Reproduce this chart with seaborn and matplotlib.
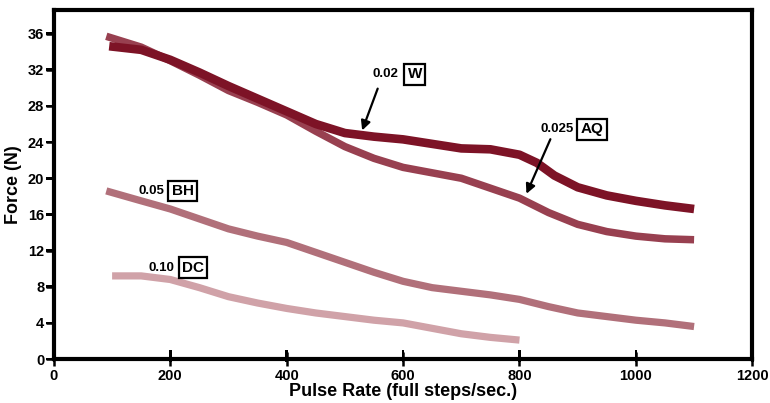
import pandas as pd
import seaborn as sns
import matplotlib.pyplot as plt
from matplotlib.patches import Rectangle

# Force vs pulse rate curves
w_x = [95, 150, 200, 250, 300, 350, 400, 450, 500, 550, 600, 650, 700, 750, 800, 830, 860, 900, 950, 1000, 1050, 1100]
w_y = [34.6, 34.2, 33.1, 31.7, 30.2, 28.8, 27.4, 26.0, 25.0, 24.6, 24.3, 23.8, 23.3, 23.2, 22.6, 21.7, 20.3, 19.0, 18.1, 17.5, 17.0, 16.6]

aq_x = [90, 150, 200, 250, 300, 350, 400, 450, 500, 550, 600, 650, 700, 750, 800, 850, 900, 950, 1000, 1050, 1100]
aq_y = [35.7, 34.5, 33.0, 31.4, 29.7, 28.4, 27.0, 25.2, 23.5, 22.2, 21.2, 20.6, 20.0, 18.9, 17.8, 16.2, 14.9, 14.1, 13.6, 13.3, 13.2]

bh_x = [90, 150, 200, 250, 300, 350, 400, 450, 500, 550, 600, 650, 700, 750, 800, 850, 900, 950, 1000, 1050, 1100]
bh_y = [18.6, 17.5, 16.6, 15.5, 14.4, 13.6, 12.9, 11.8, 10.7, 9.6, 8.6, 7.9, 7.5, 7.1, 6.6, 5.8, 5.1, 4.7, 4.3, 4.0, 3.6]

dc_x = [100, 150, 200, 250, 300, 350, 400, 450, 500, 550, 600, 650, 700, 750, 800]
dc_y = [9.2, 9.2, 8.8, 7.9, 6.9, 6.2, 5.6, 5.1, 4.7, 4.3, 4.0, 3.4, 2.8, 2.4, 2.1]

x_ticks = [0, 200, 400, 600, 800, 1000, 1200]
y_ticks = [0, 4, 8, 12, 16, 20, 24, 28, 32, 36]

sns.set_style("ticks")
plt.rcParams['font.family'] = ['Liberation Sans', 'DejaVu Sans']
plt.rcParams['font.weight'] = 'bold'
plt.rcParams['text.color'] = 'black'
plt.rcParams['axes.labelcolor'] = 'black'
plt.rcParams['axes.axisbelow'] = False

fig = plt.figure(figsize=(7.7, 4.03), dpi=100)
ax = fig.add_axes([0.070, 0.109, 0.907, 0.866])

# lighter curves first so the darker ones sit on top
style = dict(solid_capstyle="butt", solid_joinstyle="round")
sns.lineplot(x=dc_x, y=dc_y, ax=ax, color="#d0a2a8", linewidth=5.2, **style)
sns.lineplot(x=bh_x, y=bh_y, ax=ax, color="#b1707a", linewidth=5.2, **style)
sns.lineplot(x=aq_x, y=aq_y, ax=ax, color="#984050", linewidth=5.4, **style)
sns.lineplot(x=w_x, y=w_y, ax=ax, color="#7d1326", linewidth=6.2, **style)

ax.set_xlim(0, 1200)
ax.set_ylim(0, 38.6)
ax.set_xticks(x_ticks)
ax.set_yticks(y_ticks)
ax.tick_params(axis="x", bottom=True, direction="inout", length=10, width=1.8,
               pad=2, labelsize=10.5, colors="black")
ax.tick_params(axis="y", left=True, direction="out", length=6, width=1.8,
               pad=1, labelsize=10.5, colors="black")

# tick marks also drawn as thin filled bars, since tick lines did not show in the preview
xt_tr = ax.get_xaxis_transform()
yt_tr = ax.get_yaxis_transform()
for xt in x_ticks:
    ax.add_patch(Rectangle((xt - 2.2, -0.009), 4.4, 0.035, transform=xt_tr,
                           facecolor="black", edgecolor="none", clip_on=False, zorder=6))
for yt in y_ticks:
    ax.add_patch(Rectangle((-0.012, yt - 0.14), 0.012, 0.28, transform=yt_tr,
                           facecolor="black", edgecolor="none", clip_on=False, zorder=6))

for lab in ax.get_xticklabels() + ax.get_yticklabels():
    lab.set_fontweight("bold")
for sp in ax.spines.values():
    sp.set_visible(True)
    sp.set_linewidth(3)
    sp.set_color("black")

ax.set_xlabel("Pulse Rate (full steps/sec.)", fontsize=13, fontweight="bold", labelpad=0)
ax.set_ylabel("Force (N)", fontsize=13, fontweight="bold", labelpad=4)

box = dict(boxstyle="square,pad=0.22", facecolor="white", edgecolor="black", linewidth=1.6)
labels = [
    ("0.02", "W", 570, 620, 31.5),
    ("0.025", "AQ", 865, 925, 25.4),
    ("0.05", "BH", 168, 221, 18.6),
    ("0.10", "DC", 184, 239, 10.1),
]
for num, code, xn, xc, yv in labels:
    ax.text(xn, yv, num, fontsize=9.5, fontweight="bold", ha="center", va="center")
    ax.text(xc, yv, code, fontsize=11, fontweight="bold", ha="center", va="center", bbox=box)

arrow = dict(arrowstyle="-|>", color="black", lw=1.6, mutation_scale=14)
ax.annotate("", xy=(528, 25.0), xytext=(558, 30.2), arrowprops=arrow)
ax.annotate("", xy=(810, 18.0), xytext=(855, 24.6), arrowprops=arrow)

plt.savefig("out.png", dpi=100)
plt.close()
